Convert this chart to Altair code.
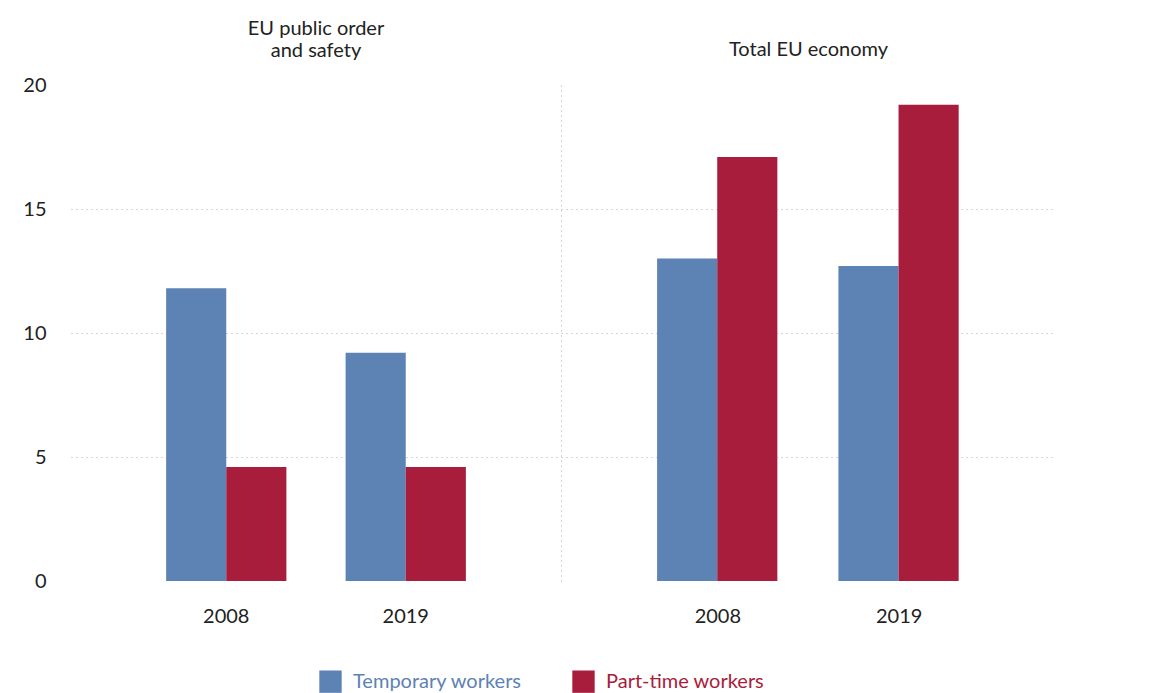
import altair as alt
import pandas as pd

years = ["2008", "2019"]
series = ["Temporary workers", "Part-time workers"]
colors = ["#5d82b4", "#a81d3b"]
panel_titles = [["EU public order", "and safety"], "Total EU economy"]
temp_public = [11.8, 9.2]
part_public = [4.6, 4.6]
temp_total = [13.0, 12.7]
part_total = [17.1, 19.2]
y_ticks = [0, 5, 10, 15, 20]

FONT = "Lato"
FS = 20

def make_df(temp, part):
    rows = []
    for i, yr in enumerate(years):
        rows.append({"year": yr, "series": series[0], "value": temp[i]})
        rows.append({"year": yr, "series": series[1], "value": part[i]})
    return pd.DataFrame(rows)

df_public = make_df(temp_public, part_public)
df_total = make_df(temp_total, part_total)

grid_opacity = {"condition": {"test": "datum.value == 0 || datum.value == 20", "value": 0}, "value": 1}

color_enc = alt.Color(
    "series:N",
    sort=series,
    scale=alt.Scale(domain=series, range=colors),
    legend=alt.Legend(
        title=None,
        orient="none",
        legendX=248,
        legendY=585,
        direction="horizontal",
        symbolType="square",
        symbolSize=500,
        symbolStrokeWidth=0,
        symbolOpacity=1,
        labelFontSize=FS,
        labelFont=FONT,
        labelLimit=400,
        labelColor={"expr": "datum.label == 'Temporary workers' ? '#5d82b4' : '#a81d3b'"},
        columnPadding=50,
        labelOffset=11,
    ),
)

def panel(df, title, left):
    if left:
        yaxis = alt.Axis(
            title=None, values=y_ticks, grid=True, gridDash=[1, 4], gridColor="#aaaaaa",
            gridOpacity=grid_opacity, domain=False, ticks=False, labelPadding=25,
            labelFontSize=FS, labelFont=FONT, labelColor="#222222",
        )
    else:
        yaxis = alt.Axis(
            title=None, values=y_ticks, grid=True, gridDash=[1, 4], gridColor="#aaaaaa",
            gridOpacity=grid_opacity, domain=True, domainDash=[1, 4], domainColor="#aaaaaa",
            ticks=False, labels=False,
        )
    return alt.Chart(df).mark_bar().encode(
        x=alt.X("year:N", sort=years,
                axis=alt.Axis(title=None, labelAngle=0, ticks=False, domain=False,
                              labelPadding=25, labelFontSize=FS, labelFont=FONT,
                              labelColor="#222222"),
                scale=alt.Scale(paddingInner=0.33, paddingOuter=0.53)),
        xOffset=alt.XOffset("series:N", sort=series, scale=alt.Scale(paddingInner=0, paddingOuter=0)),
        y=alt.Y("value:Q", scale=alt.Scale(domain=[0, 20], nice=False), axis=yaxis),
        color=color_enc,
    ).properties(
        width=490 if left else 495,
        height=496,
        title=alt.TitleParams(text=title, fontSize=FS, font=FONT, fontWeight="normal",
                              color="#222222", baseline="bottom", lineHeight=22,
                              offset=-6 if left else 5),
    )

chart = alt.hconcat(
    panel(df_public, panel_titles[0], True),
    panel(df_total, panel_titles[1], False),
    spacing=0,
).configure_view(stroke=None).configure_concat(spacing=0).properties(
    padding={"left": 14, "top": 11, "right": 5, "bottom": 0}
)

chart.save("out.html", embed_options={"renderer": "svg", "actions": False})
